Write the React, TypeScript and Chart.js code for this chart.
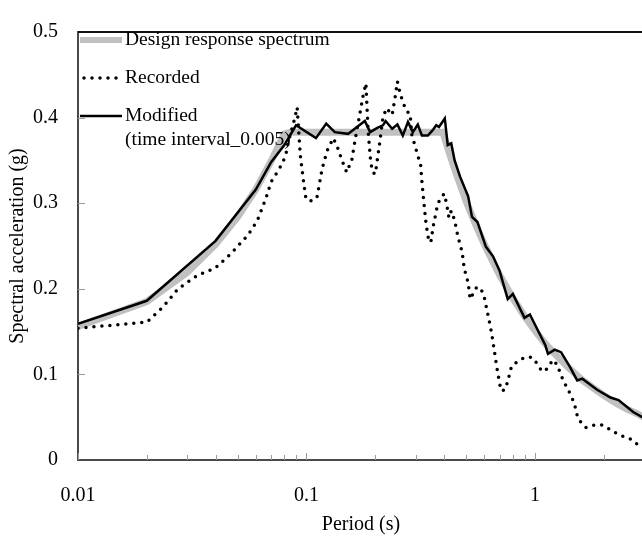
import React, { useEffect, useRef } from "react";
import { Chart, registerables } from "chart.js";
Chart.register(...registerables);

// ---- Data (period in s, spectral acceleration in g) ----
const designPeriod = [0.01, 0.02, 0.03, 0.04, 0.05, 0.06, 0.07, 0.08, 0.085, 0.1, 0.2, 0.3, 0.395, 0.42, 0.45, 0.5, 0.55, 0.6, 0.7, 0.8, 0.9, 1.0, 1.1, 1.2, 1.4, 1.6, 1.8, 2.0, 2.25, 2.5, 2.75, 3.0];
const designSa = [0.156, 0.185, 0.219, 0.252, 0.284, 0.316, 0.349, 0.381, 0.383, 0.383, 0.383, 0.383, 0.383, 0.36, 0.336, 0.302, 0.275, 0.252, 0.216, 0.189, 0.168, 0.151, 0.137, 0.126, 0.108, 0.094, 0.084, 0.0755, 0.067, 0.06, 0.055, 0.05];

const recordedPeriod = [0.01, 0.02, 0.0236, 0.0274, 0.0335, 0.0398, 0.0467, 0.0555, 0.061, 0.0665, 0.07, 0.076, 0.081, 0.083, 0.089, 0.091, 0.094, 0.099, 0.103, 0.111, 0.117, 0.123, 0.131, 0.136, 0.143, 0.15, 0.158, 0.163, 0.17, 0.177, 0.182, 0.186, 0.191, 0.195, 0.2, 0.209, 0.216, 0.224, 0.237, 0.244, 0.25, 0.256, 0.264, 0.275, 0.284, 0.289, 0.303, 0.316, 0.32, 0.325, 0.333, 0.34, 0.35, 0.358, 0.372, 0.38, 0.4, 0.41, 0.42, 0.43, 0.445, 0.46, 0.48, 0.49, 0.51, 0.52, 0.556, 0.58, 0.6, 0.62, 0.64, 0.655, 0.68, 0.69, 0.71, 0.74, 0.76, 0.79, 0.84, 0.9, 0.97, 1.02, 1.07, 1.11, 1.16, 1.21, 1.26, 1.3, 1.34, 1.39, 1.44, 1.49, 1.54, 1.61, 1.67, 1.83, 1.96, 2.09, 2.28, 2.46, 2.6, 2.78, 3.0];
const recordedSa = [0.154, 0.161, 0.179, 0.2, 0.216, 0.224, 0.241, 0.263, 0.28, 0.306, 0.325, 0.34, 0.355, 0.37, 0.4, 0.412, 0.355, 0.308, 0.302, 0.306, 0.34, 0.361, 0.376, 0.367, 0.35, 0.336, 0.351, 0.373, 0.4, 0.426, 0.44, 0.385, 0.348, 0.336, 0.334, 0.37, 0.4, 0.411, 0.403, 0.423, 0.442, 0.43, 0.418, 0.407, 0.405, 0.38, 0.361, 0.344, 0.325, 0.306, 0.278, 0.261, 0.254, 0.272, 0.294, 0.302, 0.311, 0.3, 0.283, 0.291, 0.28, 0.261, 0.243, 0.224, 0.207, 0.188, 0.202, 0.2, 0.19, 0.172, 0.154, 0.138, 0.109, 0.099, 0.081, 0.082, 0.092, 0.11, 0.115, 0.12, 0.12, 0.113, 0.104, 0.104, 0.112, 0.117, 0.109, 0.099, 0.091, 0.083, 0.075, 0.065, 0.049, 0.042, 0.038, 0.041, 0.041, 0.037, 0.031, 0.027, 0.025, 0.019, 0.017];

const modifiedPeriod = [0.01, 0.02, 0.04, 0.06, 0.07, 0.08, 0.09, 0.11, 0.122, 0.133, 0.152, 0.168, 0.18, 0.19, 0.204, 0.216, 0.222, 0.237, 0.25, 0.264, 0.278, 0.292, 0.307, 0.32, 0.34, 0.356, 0.37, 0.38, 0.403, 0.415, 0.43, 0.445, 0.47, 0.51, 0.53, 0.56, 0.61, 0.655, 0.7, 0.76, 0.8, 0.9, 0.95, 1.11, 1.14, 1.22, 1.3, 1.42, 1.53, 1.61, 1.87, 2.14, 2.32, 2.69, 3.0];
const modifiedSa = [0.159, 0.186, 0.256, 0.316, 0.348, 0.368, 0.391, 0.376, 0.393, 0.383, 0.381, 0.39, 0.396, 0.383, 0.388, 0.391, 0.396, 0.387, 0.392, 0.379, 0.395, 0.383, 0.392, 0.379, 0.379, 0.385, 0.391, 0.389, 0.399, 0.368, 0.37, 0.35, 0.331, 0.308, 0.284, 0.278, 0.249, 0.238, 0.221, 0.188, 0.194, 0.166, 0.17, 0.134, 0.124, 0.129, 0.126, 0.109, 0.093, 0.095, 0.082, 0.073, 0.07, 0.056, 0.049];

const seriesNames = ["Design response spectrum", "Recorded", "Modified"];
const modifiedNote = "(time interval_0.005)";
const xLabelValues = [0.01, 0.1, 1];
const xMinorTickValues = [0.02, 0.03, 0.04, 0.05, 0.06, 0.07, 0.08, 0.09, 0.2, 0.3, 0.4, 0.5, 0.6, 0.7, 0.8, 0.9, 2, 3];
const yTickValues = [0, 0.1, 0.2, 0.3, 0.4, 0.5];
const xTitle = "Period (s)";
const yTitle = "Spectral acceleration (g)";

const FONT = "'Liberation Serif', 'Times New Roman', serif";

const toPoints = (xs: number[], ys: number[]) => xs.map((x, i) => ({ x, y: ys[i] }));

const decorPlugin = {
  id: "decor",
  afterDraw(chart: any) {
    const { ctx, chartArea: a, scales } = chart;
    const xs = scales.x;
    const ys = scales.y;
    ctx.save();
    // top border
    ctx.strokeStyle = "#111";
    ctx.lineWidth = 2;
    ctx.beginPath();
    ctx.moveTo(a.left, a.top);
    ctx.lineTo(a.right + 20, a.top);
    ctx.stroke();
    // tick marks (inside)
    ctx.strokeStyle = "#9a9a9a";
    ctx.lineWidth = 1;
    ctx.beginPath();
    for (const v of xMinorTickValues) {
      const px = Math.round(xs.getPixelForValue(v)) + 0.5;
      ctx.moveTo(px, a.bottom);
      ctx.lineTo(px, a.bottom - 5);
    }
    for (const v of xLabelValues) {
      const px = Math.round(xs.getPixelForValue(v)) + 0.5;
      ctx.moveTo(px, a.bottom);
      ctx.lineTo(px, a.bottom - 7);
    }
    for (const v of yTickValues) {
      if (v === 0 || v === 0.5) continue;
      const py = Math.round(ys.getPixelForValue(v)) + 0.5;
      ctx.moveTo(a.left, py);
      ctx.lineTo(a.left + 7, py);
    }
    ctx.stroke();

    // legend
    const lx0 = a.left + 2;
    const lx1 = a.left + 44;
    const tx = a.left + 47;
    const rows = [a.top + 8, a.top + 46, a.top + 84];
    ctx.lineCap = "butt";
    ctx.strokeStyle = "#c0c0c0";
    ctx.lineWidth = 6;
    ctx.beginPath();
    ctx.moveTo(lx0, rows[0]);
    ctx.lineTo(lx1, rows[0]);
    ctx.stroke();
    ctx.strokeStyle = "#000";
    ctx.lineWidth = 3.5;
    ctx.lineCap = "round";
    ctx.setLineDash([0, 8]);
    ctx.beginPath();
    ctx.moveTo(lx0 + 4, rows[1]);
    ctx.lineTo(lx1, rows[1]);
    ctx.stroke();
    ctx.setLineDash([]);
    ctx.lineCap = "butt";
    ctx.lineWidth = 2.5;
    ctx.beginPath();
    ctx.moveTo(lx0, rows[2]);
    ctx.lineTo(lx1, rows[2]);
    ctx.stroke();

    ctx.fillStyle = "#000";
    ctx.font = `19.5px ${FONT}`;
    ctx.textBaseline = "middle";
    ctx.textAlign = "left";
    ctx.fillText(seriesNames[0], tx, rows[0]);
    ctx.fillText(seriesNames[1], tx, rows[1]);
    ctx.fillText(seriesNames[2], tx, rows[2]);
    ctx.fillText(modifiedNote, tx, rows[2] + 24);
    ctx.restore();
  },
};

export default function App() {
  const canvasRef = useRef<HTMLCanvasElement | null>(null);

  useEffect(() => {
    const canvas = canvasRef.current;
    if (!canvas) return;
    const chart = new Chart(canvas, {
      type: "line",
      data: {
        datasets: [
          {
            label: seriesNames[2],
            data: toPoints(modifiedPeriod, modifiedSa),
            borderColor: "#000",
            borderWidth: 2.5,
            pointRadius: 0,
            tension: 0,
            order: 1,
          },
          {
            label: seriesNames[1],
            data: toPoints(recordedPeriod, recordedSa),
            borderColor: "#000",
            borderWidth: 3.5,
            borderDash: [0, 8],
            borderCapStyle: "round",
            pointRadius: 0,
            tension: 0,
            order: 2,
          },
          {
            label: seriesNames[0],
            data: toPoints(designPeriod, designSa),
            borderColor: "#c0c0c0",
            borderWidth: 7,
            pointRadius: 0,
            tension: 0,
            order: 3,
          },
        ],
      },
      options: {
        animation: false,
        responsive: false,
        events: [],
        layout: { padding: { left: 0, top: 15, right: 56, bottom: 0 } },
        plugins: { legend: { display: false }, tooltip: { enabled: false } },
        scales: {
          x: {
            type: "logarithmic",
            min: 0.01,
            max: 3,
            grid: { drawOnChartArea: false, drawTicks: false },
            border: { color: "#4a4a4a", width: 2 },
            afterFit: (s: any) => {
              s.height = 78;
            },
            afterBuildTicks: (s: any) => {
              s.ticks = xLabelValues.map((v) => ({ value: v }));
            },
            ticks: {
              autoSkip: false,
              maxRotation: 0,
              padding: 24,
              color: "#000",
              font: { family: FONT, size: 20 },
              callback: (v: any) => String(v),
            },
            title: {
              display: true,
              text: xTitle,
              color: "#000",
              font: { family: FONT, size: 20 },
              padding: { top: 0, bottom: 1 },
            },
          },
          y: {
            type: "linear",
            min: 0,
            max: 0.5,
            afterBuildTicks: (s: any) => {
              s.ticks = yTickValues.map((v) => ({ value: v }));
            },
            grid: { drawOnChartArea: false, drawTicks: false },
            border: { color: "#4a4a4a", width: 2 },
            afterFit: (s: any) => {
              s.width = 78;
            },
            ticks: {
              padding: 20,
              color: "#000",
              font: { family: FONT, size: 20 },
              callback: (v: any) => String(Math.round(Number(v) * 10) / 10),
            },
            title: {
              display: true,
              text: yTitle,
              color: "#000",
              font: { family: FONT, size: 20 },
              padding: { top: 6, bottom: 0 },
            },
          },
        },
      },
      plugins: [decorPlugin],
    });
    return () => chart.destroy();
  }, []);

  return (
    <div
      style={{
        position: "fixed",
        left: 0,
        top: 0,
        width: 642,
        height: 538,
        overflow: "hidden",
        background: "#fff",
      }}
    >
      <canvas ref={canvasRef} width={700} height={538} style={{ display: "block", width: 700, height: 538 }} />
    </div>
  );
}
